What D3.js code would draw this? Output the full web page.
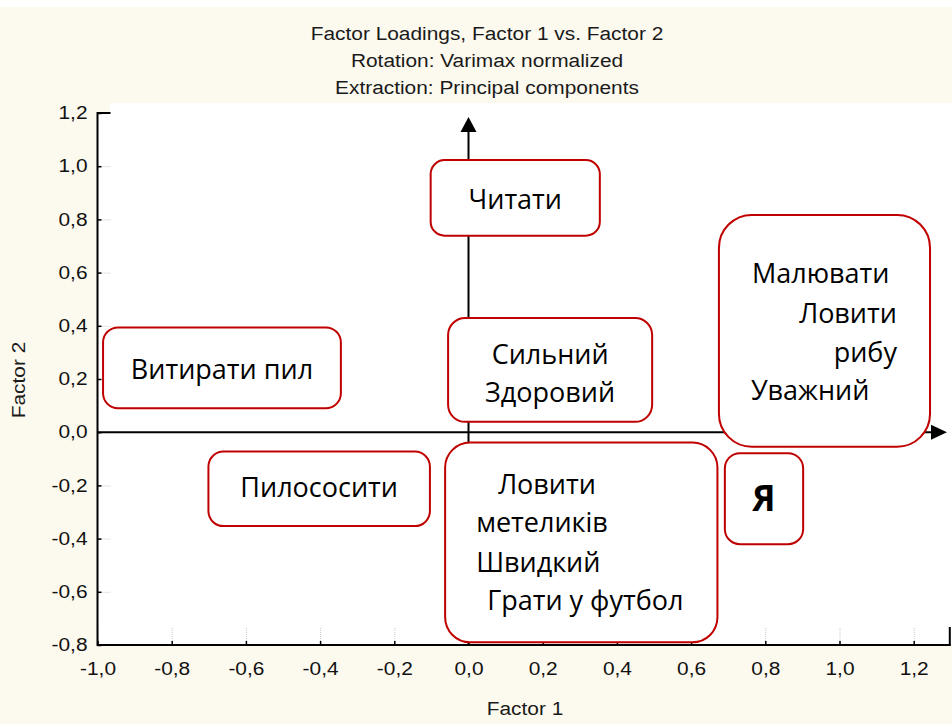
<!DOCTYPE html>
<html>
<head>
<meta charset="utf-8">
<script src="https://cdn.jsdelivr.net/npm/d3@7"></script>
<style>
  body { margin: 0; background: #fff; }
</style>
</head>
<body>
<svg id="chart" width="952" height="724"></svg>
<script>
// ---- data -------------------------------------------------------------
var titleLines = [
  'Factor Loadings, Factor 1 vs. Factor 2',
  'Rotation: Varimax normalized',
  'Extraction: Principal components'
];
var xTicks = [-1.0, -0.8, -0.6, -0.4, -0.2, 0.0, 0.2, 0.4, 0.6, 0.8, 1.0, 1.2];
var yTicks = [-0.8, -0.6, -0.4, -0.2, 0.0, 0.2, 0.4, 0.6, 0.8, 1.0, 1.2];
var xLabel = 'Factor 1';
var yLabel = 'Factor 2';

// groups of variables, outlined by rounded boxes (extent in factor loadings)
var groupLabels = [
  ['Читати'],
  ['Малювати', 'Ловити', 'рибу', 'Уважний'],
  ['Витирати пил'],
  ['Сильний', 'Здоровий'],
  ['Пилососити'],
  ['Ловити', 'метеликів', 'Швидкий', 'Грати у футбол'],
  ['Я']
];
var groupF1Min = [-0.102, 0.675, -0.985, -0.055, -0.701, -0.063, 0.691];
var groupF1Max = [ 0.354, 1.244, -0.344,  0.495, -0.104,  0.671, 0.902];
var groupF2Min = [ 0.739, -0.055, 0.090,  0.039, -0.353, -0.790, -0.421];
var groupF2Max = [ 1.023, 0.817,  0.394,  0.429, -0.073, -0.039, -0.079];

// ---- layout (px) ------------------------------------------------------
var boxRadius = [14, 33, 15, 17, 15, 25, 15];
// per text line: [anchor, dx from box left (ignored for 'middle'), baseline from box top]
var lineLayout = [
  [['middle', 0, 49]],
  [['start', 33, 68], ['end', 178, 108], ['end', 178, 147], ['start', 32, 185]],
  [['middle', 0, 52]],
  [['middle', 0, 46], ['middle', 0, 84]],
  [['middle', 0, 45]],
  [['start', 53, 51], ['start', 31, 89], ['start', 31, 129], ['start', 42, 167]],
  [['middle', 0, 58]]
];

var svg = d3.select('#chart');
var x = d3.scaleLinear().domain([-1.0, 1.3]).range([97.5, 950.8]);
var y = d3.scaleLinear().domain([-0.8, 1.2]).range([645, 113]);

var locale = d3.formatLocale({decimal: ',', thousands: ' ', grouping: [3], currency: ['', ''], minus: '-'});
var fmt = locale.format('.1f');
var sans = '"Liberation Sans", Arial, sans-serif';
var boxFont = '"Open Sans", "Noto Sans", sans-serif';
var red = '#c00000';
var stretch = 1.16;   // the statistica text is a little wider than plain Arial

// background
svg.append('rect').attr('x', 0).attr('y', 7).attr('width', 952).attr('height', 717).attr('fill', '#fcf9ef');
svg.append('rect').attr('x', x(-1)).attr('y', y(1.2)).attr('width', 952 - x(-1)).attr('height', y(-0.8) - y(1.2)).attr('fill', '#fff');
svg.append('rect').attr('x', 110).attr('y', 103).attr('width', 842).attr('height', 12).attr('fill', '#fff');

// titles
svg.selectAll('text.title')
    .data(titleLines)
  .enter().append('text')
    .attr('class', 'title')
    .attr('transform', function (d, i) { return 'translate(487,' + (40 + i * 27) + ') scale(' + stretch + ',1)'; })
    .attr('text-anchor', 'middle')
    .attr('font-family', sans)
    .attr('font-size', 18)
    .attr('fill', '#1a1a1a')
    .text(function (d) { return d; });

// x axis ticks and labels
var gx = svg.append('g')
    .attr('transform', 'translate(0,' + y(-0.8) + ')')
    .call(d3.axisBottom(x).tickValues(xTicks).tickFormat(fmt).tickSize(-18).tickPadding(17));
gx.select('.domain').remove();
gx.attr('font-family', sans).attr('font-size', 18);
gx.selectAll('.tick line').attr('stroke', '#c8c8c8').attr('stroke-dasharray', '1,1');
gx.selectAll('.tick text').attr('fill', '#111').attr('transform', 'scale(' + stretch + ',1)');
gx.selectAll('.tick').append('line').attr('y2', -4).attr('stroke', '#000').attr('stroke-width', 1.5);

// y axis ticks and labels
var gy = svg.append('g')
    .attr('transform', 'translate(' + x(-1) + ',0)')
    .call(d3.axisLeft(y).tickValues(yTicks).tickFormat(fmt).tickSize(-13).tickPadding(10));
gy.select('.domain').remove();
gy.attr('font-family', sans).attr('font-size', 18);
gy.selectAll('.tick line').attr('stroke', '#c8c8c8').attr('stroke-dasharray', '1,1');
gy.selectAll('.tick text').attr('fill', '#111')
    .attr('x', -10 / stretch)
    .attr('transform', 'scale(' + stretch + ',1)');
gy.selectAll('.tick').append('line').attr('x2', 4).attr('stroke', '#000').attr('stroke-width', 1.5);

// frame: left and bottom axes, corner stubs
svg.append('line').attr('x1', x(-1)).attr('x2', x(-1)).attr('y1', y(1.2) - 1).attr('y2', y(-0.8) + 1)
    .attr('stroke', '#000').attr('stroke-width', 2);
svg.append('line').attr('x1', x(-1)).attr('x2', x(1.3)).attr('y1', y(-0.8)).attr('y2', y(-0.8))
    .attr('stroke', '#000').attr('stroke-width', 2);
svg.append('line').attr('x1', x(-1)).attr('x2', x(-1) + 13).attr('y1', y(1.2)).attr('y2', y(1.2))
    .attr('stroke', '#000').attr('stroke-width', 2);
svg.append('line').attr('x1', x(1.3) - 1).attr('x2', x(1.3) - 1).attr('y1', y(-0.8) - 18).attr('y2', y(-0.8))
    .attr('stroke', '#000').attr('stroke-width', 2);

// axis titles
svg.append('text')
    .attr('transform', 'translate(525,715) scale(' + stretch + ',1)')
    .attr('text-anchor', 'middle')
    .attr('font-family', sans).attr('font-size', 18).attr('fill', '#1a1a1a')
    .text(xLabel);
svg.append('text')
    .attr('transform', 'translate(25,380) rotate(-90) scale(' + stretch + ',1)')
    .attr('text-anchor', 'middle')
    .attr('font-family', sans).attr('font-size', 18).attr('fill', '#1a1a1a')
    .text(yLabel);

// zero lines drawn as arrows
var x0 = x(0), y0 = y(0);
svg.append('line').attr('x1', x(-1)).attr('x2', 933).attr('y1', y0).attr('y2', y0)
    .attr('stroke', '#000').attr('stroke-width', 2);
svg.append('path').attr('d', 'M931,' + (y0 - 7.5) + 'L947,' + y0 + 'L931,' + (y0 + 7.5) + 'Z').attr('fill', '#000');
svg.append('line').attr('x1', x0).attr('x2', x0).attr('y1', y(-0.8)).attr('y2', 130)
    .attr('stroke', '#000').attr('stroke-width', 2);
svg.append('path').attr('d', 'M' + (x0 - 8) + ',132L' + x0 + ',117L' + (x0 + 8) + ',132Z').attr('fill', '#000');

// group boxes
var groups = svg.selectAll('g.group')
    .data(groupLabels)
  .enter().append('g')
    .attr('class', 'group')
    .attr('transform', function (d, i) { return 'translate(' + x(groupF1Min[i]) + ',' + y(groupF2Max[i]) + ')'; });

groups.append('rect')
    .attr('width', function (d, i) { return x(groupF1Max[i]) - x(groupF1Min[i]); })
    .attr('height', function (d, i) { return y(groupF2Min[i]) - y(groupF2Max[i]); })
    .attr('rx', function (d, i) { return boxRadius[i]; })
    .attr('fill', '#fff')
    .attr('stroke', red)
    .attr('stroke-width', 2);

groups.each(function (lines, i) {
  var g = d3.select(this);
  var w = x(groupF1Max[i]) - x(groupF1Min[i]);
  lines.forEach(function (t, j) {
    var lay = lineLayout[i][j];
    g.append('text')
        .attr('x', lay[0] === 'middle' ? w / 2 : lay[1])
        .attr('y', lay[2])
        .attr('text-anchor', lay[0])
        .attr('font-family', boxFont)
        .attr('font-size', t === 'Я' ? 35 : 27)
        .attr('font-weight', t === 'Я' ? 'bold' : 'normal')
        .attr('fill', '#000')
        .text(t);
  });
});
</script>
</body>
</html>
